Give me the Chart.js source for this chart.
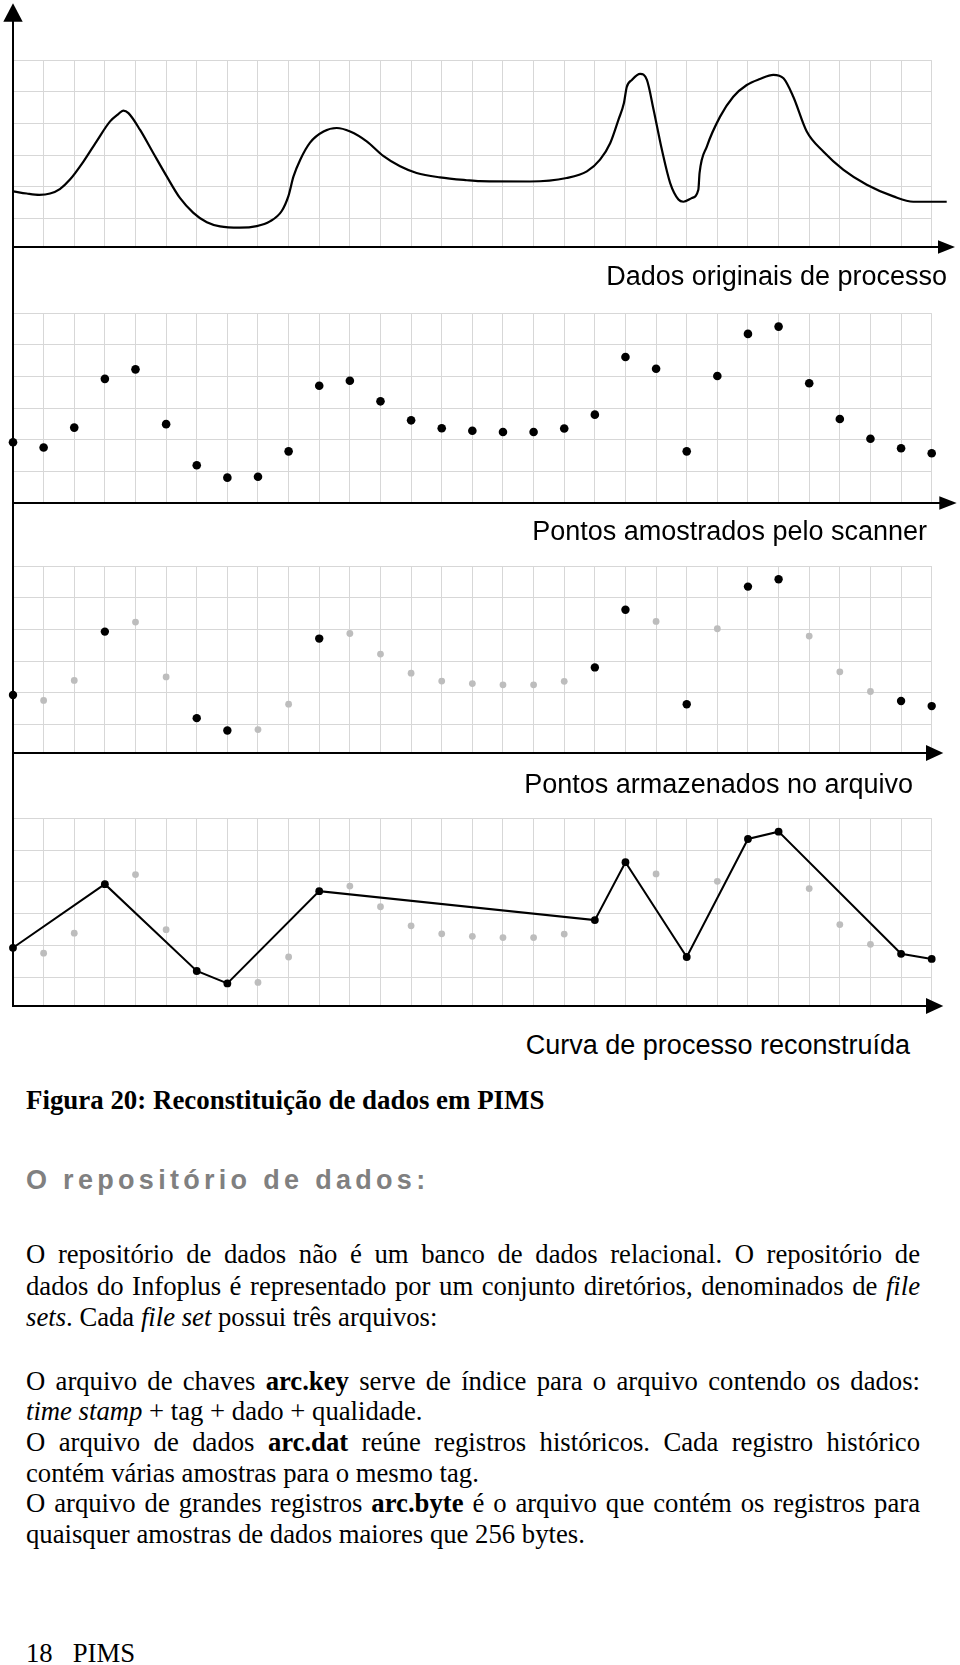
<!DOCTYPE html>
<html><head><meta charset="utf-8">
<script src="https://cdn.jsdelivr.net/npm/chart.js@4.4.0/dist/chart.umd.min.js"></script>
<style>
html,body{margin:0;padding:0;background:#fff;}
#page{position:relative;width:960px;height:1665px;overflow:hidden;background:#fff;}
canvas{position:absolute;left:0;pointer-events:none;}
.t{position:absolute;white-space:pre;margin:0;top:0;}
.lab{font-family:"Liberation Sans",Arial,sans-serif;font-size:27px;line-height:32px;color:#000;text-align:right;}
.serif{font-family:"Liberation Serif","Times New Roman",serif;font-size:26.7px;line-height:31px;color:#000;left:26px;}
.cap{font-weight:bold;font-size:26.9px;}
.just{width:894px;text-align:justify;text-align-last:justify;white-space:normal;}
.head{font-family:"Liberation Sans",Arial,sans-serif;font-weight:bold;font-size:27px;letter-spacing:4.3px;color:#808080;line-height:32px;left:26px;}
</style></head>
<body>
<div id="page">
<canvas id="c1" width="960" height="260" style="top:0px"></canvas>
<canvas id="c2" width="960" height="270" style="top:247px"></canvas>
<canvas id="c3" width="960" height="263" style="top:503px"></canvas>
<canvas id="c4" width="960" height="266" style="top:753px"></canvas>

<div class="t lab" data-b="285" style="right:13px">Dados originais de processo</div>
<div class="t lab" data-b="540" style="right:33px">Pontos amostrados pelo scanner</div>
<div class="t lab" data-b="793" style="right:47px">Pontos armazenados no arquivo</div>
<div class="t lab" data-b="1054" style="right:50px">Curva de processo reconstruída</div>

<div class="t serif cap" data-b="1109.3">Figura 20: Reconstituição de dados em PIMS</div>
<div class="t head" data-b="1189.3">O repositório de dados:</div>

<div class="t serif just" data-b="1263.3">O repositório de dados não é um banco de dados relacional. O repositório de</div>
<div class="t serif just" data-b="1295">dados do Infoplus é representado por um conjunto diretórios, denominados de <i>file</i></div>
<div class="t serif" data-b="1326"><i>sets</i>. Cada <i>file set</i> possui três arquivos:</div>
<div class="t serif just" data-b="1389.5">O arquivo de chaves <b>arc.key</b> serve de índice para o arquivo contendo os dados:</div>
<div class="t serif" data-b="1420.3"><i>time stamp</i> + tag + dado + qualidade.</div>
<div class="t serif just" data-b="1451">O arquivo de dados <b>arc.dat</b> reúne registros históricos. Cada registro histórico</div>
<div class="t serif" data-b="1482">contém várias amostras para o mesmo tag.</div>
<div class="t serif just" data-b="1511.7">O arquivo de grandes registros <b>arc.byte</b> é o arquivo que contém os registros para</div>
<div class="t serif" data-b="1542.6">quaisquer amostras de dados maiores que 256 bytes.</div>
<div class="t serif" data-b="1661.5">18   PIMS</div>
</div>

<script>
// ---- data (x in grid columns, y in grid rows) ----
const gridX = [1,2,3,4,5,6,7,8,9,10,11,12,13,14,15,16,17,18,19,20,21,22,23,24,25,26,27,28,29,30];
const gridY = [1,2,3,4,5,6];

// original continuous process curve
const curveX = [0,0.45,0.86,1.21,1.53,1.86,2.30,2.73,3.17,3.44,3.60,3.77,4.15,4.58,5.02,5.45,5.89,6.33,6.76,7.41,7.96,8.39,8.77,8.99,9.16,9.38,9.70,10.14,10.57,11.01,11.55,12.09,12.64,13.18,13.94,14.82,15.25,16.88,18.08,18.74,19.17,19.50,19.77,19.95,20.04,20.21,20.48,20.70,20.92,21.19,21.46,21.73,21.89,22.17,22.38,22.42,22.66,23.09,23.52,23.96,24.39,24.83,25.16,25.48,25.92,26.46,27.12,27.88,28.75,29.40,30.49];
const curveY = [1.86,1.79,1.75,1.79,1.93,2.23,2.80,3.44,4.07,4.30,4.41,4.33,3.80,3.07,2.33,1.65,1.18,0.88,0.75,0.71,0.76,0.91,1.23,1.70,2.33,2.86,3.40,3.75,3.86,3.75,3.44,2.98,2.65,2.44,2.30,2.21,2.18,2.17,2.28,2.49,2.86,3.38,4.12,4.65,5.15,5.38,5.57,5.38,4.43,3.17,2.12,1.60,1.53,1.65,1.91,2.44,3.28,4.22,4.85,5.22,5.41,5.54,5.43,4.85,3.75,3.12,2.54,2.07,1.70,1.53,1.53];

// points sampled by the scanner
const sampleX = [0,1,2,3,4,5,6,7,8,9,10,11,12,13,14,15,16,17,18,19,20,21,22,23,24,25,26,27,28,29,30];
const sampleY = [1.93,1.76,2.39,3.93,4.23,2.50,1.20,0.81,0.84,1.64,3.71,3.87,3.22,2.62,2.37,2.29,2.25,2.25,2.36,2.80,4.62,4.25,1.64,4.02,5.35,5.58,3.79,2.66,2.04,1.74,1.58];

// indices of the points stored in the archive
const storedIdx = [0,3,6,7,10,19,20,22,24,25,29,30];

// ---- build ----
const pts = (xs, ys) => xs.map((x, i) => ({x, y: ys[i]}));
const allPts = pts(sampleX, sampleY);
const storedPts = storedIdx.map(i => allPts[i]);
const otherPts = allPts.filter((p, i) => !storedIdx.includes(i));

const axisDeco = {
  id: 'axisDeco',
  afterDraw(chart, args, o) {
    const {ctx, chartArea: a} = chart;
    ctx.save();
    ctx.fillStyle = '#000'; ctx.strokeStyle = '#000'; ctx.lineWidth = 2;
    const x0 = Math.round(a.left), yb = Math.round(a.bottom);
    ctx.beginPath(); ctx.moveTo(x0, o.lineTop); ctx.lineTo(x0, a.top + 1); ctx.stroke();
    if (o.topArrow) {
      ctx.beginPath(); ctx.moveTo(x0, 3.3); ctx.lineTo(x0 - 9.7, 21.7); ctx.lineTo(x0 + 9.7, 21.7); ctx.closePath(); ctx.fill();
    }
    ctx.beginPath(); ctx.moveTo(a.right - 2, yb); ctx.lineTo(o.tipX - o.len + 1, yb); ctx.stroke();
    ctx.beginPath(); ctx.moveTo(o.tipX, yb); ctx.lineTo(o.tipX - o.len, yb - o.half); ctx.lineTo(o.tipX - o.len, yb + o.half); ctx.closePath(); ctx.fill();
    ctx.restore();
  }
};

function makeChart(id, datasets, cfg) {
  const gridOpt = {color: '#d7d7d7', lineWidth: 1, drawTicks: false};
  const borderOpt = {display: true, color: '#000', width: 2};
  return new Chart(document.getElementById(id), {
    type: 'scatter',
    data: {datasets},
    options: {
      responsive: false, animation: false, devicePixelRatio: 1,
      layout: {padding: cfg.pad},
      events: [],
      plugins: {legend: {display: false}, tooltip: {enabled: false}, axisDeco: cfg.deco},
      scales: {
        x: {type: 'linear', min: 0, max: 30,
            afterBuildTicks: s => { s.ticks = gridX.map(v => ({value: v})); },
            ticks: {display: false, autoSkip: false}, grid: gridOpt, border: borderOpt},
        y: {type: 'linear', min: cfg.ymin, max: 6,
            afterBuildTicks: s => { s.ticks = gridY.map(v => ({value: v})); },
            ticks: {display: false, autoSkip: false}, grid: gridOpt, border: borderOpt}
      }
    },
    plugins: [axisDeco]
  });
}

makeChart('c1', [{
  data: pts(curveX, curveY), showLine: true, pointRadius: 0, borderColor: '#000', borderWidth: 2.2,
  cubicInterpolationMode: 'monotone', clip: false
}], {pad: {left: 13, right: 28.3, top: 60.3, bottom: 13}, ymin: 0.1,
    deco: {lineTop: 21, topArrow: true, tipX: 955, len: 17, half: 6.7}});

makeChart('c2', [{
  data: allPts, pointRadius: 4.3, pointBackgroundColor: '#000', pointBorderWidth: 0, clip: false
}], {pad: {left: 13, right: 28.3, top: 66.3, bottom: 13.7}, ymin: 0,
    deco: {lineTop: 0, topArrow: false, tipX: 956.7, len: 17.4, half: 6.7}});

makeChart('c3', [
  {data: otherPts, pointRadius: 3.4, pointBackgroundColor: '#bdbdbd', pointBorderWidth: 0, clip: false},
  {data: storedPts, pointRadius: 4.2, pointBackgroundColor: '#000', pointBorderWidth: 0, clip: false}
], {pad: {left: 13, right: 28.3, top: 63, bottom: 13}, ymin: 0.1,
    deco: {lineTop: 0, topArrow: false, tipX: 943.3, len: 17.3, half: 8}});

makeChart('c4', [
  {data: otherPts, pointRadius: 3.4, pointBackgroundColor: '#bdbdbd', pointBorderWidth: 0, clip: false},
  {data: storedPts, showLine: true, borderColor: '#000', borderWidth: 2, pointRadius: 3.9,
   pointBackgroundColor: '#000', pointBorderWidth: 0, tension: 0, clip: false}
], {pad: {left: 13, right: 28.3, top: 65.3, bottom: 13}, ymin: 0.1,
    deco: {lineTop: 0, topArrow: false, tipX: 943.3, len: 17.3, half: 8}});

// place text lines by their baselines
document.querySelectorAll('[data-b]').forEach(el => {
  const m = document.createElement('span');
  m.style.cssText = 'display:inline-block;width:0;height:0;vertical-align:baseline;';
  el.appendChild(m);
  const off = m.offsetTop;
  el.removeChild(m);
  el.style.top = (parseFloat(el.dataset.b) - off) + 'px';
});
</script>
</body></html>
